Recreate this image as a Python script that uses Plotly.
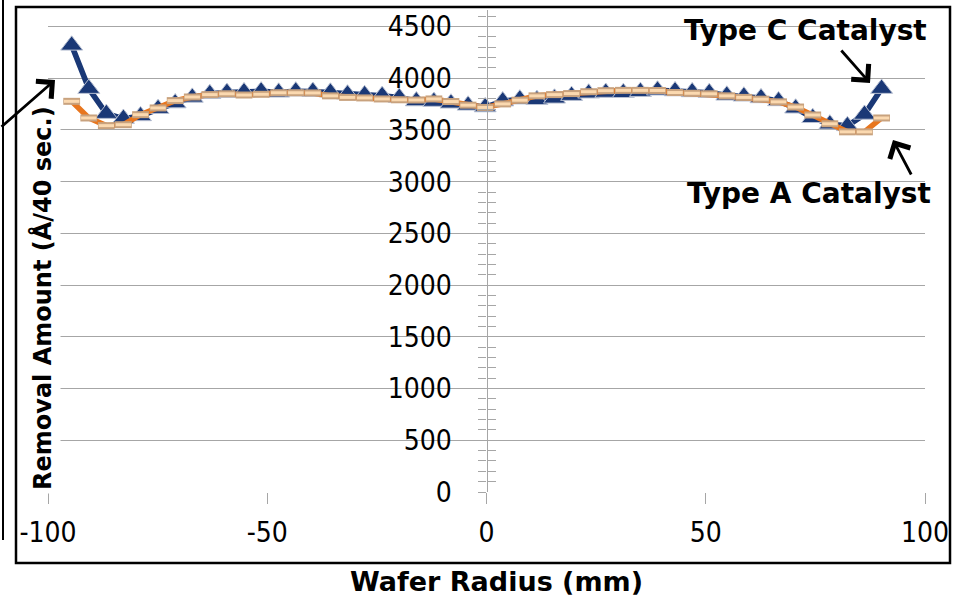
import plotly.graph_objects as go

# ---------------- data ----------------
radius_mm = [-94.6, -90.7, -86.7, -82.8, -78.9, -74.9, -71.0, -67.1, -63.1, -59.2,
             -55.3, -51.4, -47.4, -43.5, -39.6, -35.6, -31.7, -27.8, -23.8, -19.9,
             -16.0, -12.0, -8.1, -4.2, -0.3, 3.7, 7.6, 11.5, 15.5, 19.4,
             23.3, 27.2, 31.2, 35.1, 39.0, 43.0, 46.9, 50.8, 54.8, 58.7,
             62.6, 66.6, 70.5, 74.4, 78.3, 82.3, 86.2, 90.1]

type_c = [4318, 3900, 3658, 3610, 3636, 3706, 3760, 3815, 3850, 3862,
          3868, 3875, 3864, 3875, 3872, 3864, 3846, 3840, 3832, 3814,
          3780, 3775, 3758, 3738, 3722, 3779, 3798, 3792, 3806, 3832,
          3855, 3862, 3860, 3870, 3884, 3877, 3868, 3860, 3835, 3826,
          3810, 3781, 3710, 3618, 3556, 3540, 3650, 3900]

type_a = [3777, 3616, 3542, 3551, 3648, 3713, 3784, 3819, 3842, 3850,
          3838, 3845, 3860, 3860, 3858, 3830, 3815, 3810, 3800, 3792,
          3790, 3800, 3775, 3740, 3718, 3752, 3788, 3830, 3842, 3852,
          3870, 3880, 3883, 3883, 3882, 3862, 3855, 3850, 3830, 3815,
          3798, 3772, 3722, 3645, 3560, 3482, 3482, 3616]

x_ticks = [-100, -50, 0, 50, 100]
x_tick_labels = ["-100", "-50", "0", "50", "100"]
y_ticks = [0, 500, 1000, 1500, 2000, 2500, 3000, 3500, 4000, 4500]
y_tick_labels = ["0", "500", "1000", "1500", "2000", "2500", "3000", "3500", "4000", "4500"]

x_title = "Wafer Radius (mm)"
y_title = "Removal Amount (Å/40 sec.)"
label_c = "Type C Catalyst"
label_a = "Type A Catalyst"

# ---------------- style ----------------
NAVY = "#1a3876"
ORANGE = "#e8761e"
GRID = "#a6a6a6"
TICKFONT = dict(family="DejaVu Sans Condensed, DejaVu Sans", size=28, color="#000000")
BOLD_X = dict(family="DejaVu Sans, Verdana", size=27, color="#000000", weight="bold")
BOLD_Y = dict(family="DejaVu Sans, Verdana", size=24, color="#000000", weight="bold")
BOLD_LBL = dict(family="DejaVu Sans, Verdana", size=28, color="#000000", weight="bold")

fig = go.Figure()

# Type C catalyst: navy line with triangles
fig.add_trace(go.Scatter(
    x=radius_mm, y=type_c, mode="lines+markers", name=label_c,
    line=dict(color=NAVY, width=5.5),
    marker=dict(symbol="triangle-up", size=19, color=NAVY,
                line=dict(color="#b9c1d3", width=1)),
))
# Type A catalyst: orange line with bar markers
fig.add_trace(go.Scatter(
    x=radius_mm, y=type_a, mode="lines", name=label_a,
    line=dict(color=ORANGE, width=5.5),
))
fig.add_trace(go.Scatter(
    x=radius_mm, y=type_a, mode="markers", showlegend=False,
    marker=dict(symbol="line-ew", size=12, color="#c8a27e",
                line=dict(color="#c8a27e", width=7)),
))
fig.add_trace(go.Scatter(
    x=radius_mm, y=type_a, mode="markers", showlegend=False,
    marker=dict(symbol="line-ew", size=11, color="#fbd9b0",
                line=dict(color="#fbd9b0", width=3)),
))
# helper trace so the secondary (inside-tick) y axis is drawn
fig.add_trace(go.Scatter(x=[None], y=[None], yaxis="y2", showlegend=False,
                         hoverinfo="skip"))

L, R, T, B = 48, 37, 10, 105
W, H = 962, 597
pw, ph = W - L - R, H - T - B
x_range = [-100, 100]
y_range = [0, 4660]
x0_paper = (0 - x_range[0]) / (x_range[1] - x_range[0])


def px_to_paper(px, py):
    return (px - L) / pw, (H - B - py) / ph


fig.update_layout(
    width=W, height=H,
    margin=dict(l=L, r=R, t=T, b=B, pad=0),
    paper_bgcolor="white", plot_bgcolor="white",
    showlegend=False,
    xaxis=dict(range=x_range, tickvals=x_ticks, ticktext=x_tick_labels,
               ticks="outside", ticklen=11,
               tickcolor=GRID, tickwidth=1.3, showgrid=False, zeroline=False,
               showline=False, tickfont=TICKFONT, ticklabelstandoff=4),
    yaxis=dict(range=y_range, tickvals=y_ticks, ticktext=y_tick_labels,
               anchor="free", position=x0_paper,
               side="left", showline=True, linecolor=GRID, linewidth=1.3,
               ticks="outside", ticklen=8, tickcolor=GRID, tickwidth=1.3,
               showgrid=True, gridcolor=GRID, gridwidth=1.3, zeroline=False,
               tickfont=TICKFONT, ticklabelstandoff=21,
               minor=dict(dtick=100, ticks="outside", ticklen=8,
                          tickcolor=GRID, tickwidth=1.3, showgrid=False)),
    yaxis2=dict(range=y_range, overlaying="y", anchor="free", position=x0_paper,
                side="left", showticklabels=False, showgrid=False, zeroline=False,
                ticks="inside", ticklen=8, tickcolor=GRID, tickwidth=1.3,
                tickvals=y_ticks,
                minor=dict(dtick=100, ticks="inside", ticklen=8,
                           tickcolor=GRID, tickwidth=1.3, showgrid=False)),
)

annotations = []
# axis titles
tx, ty = px_to_paper(496, 581)
annotations.append(dict(text=x_title, xref="paper", yref="paper", x=tx, y=ty,
                        showarrow=False, font=BOLD_X, xanchor="center", yanchor="middle"))
tx, ty = px_to_paper(42, 298)
annotations.append(dict(text=y_title, xref="paper", yref="paper", x=tx, y=ty,
                        showarrow=False, font=BOLD_Y, textangle=-90,
                        bgcolor="white", borderpad=3,
                        xanchor="center", yanchor="middle"))
# series labels
for text, (px, py) in [(label_c, (805, 31)), (label_a, (809, 193))]:
    lx_, ly_ = px_to_paper(px, py)
    annotations.append(dict(text=text, xref="paper", yref="paper", x=lx_, y=ly_,
                            xanchor="center", yanchor="middle",
                            showarrow=False, font=BOLD_LBL))
# arrows (tip given in pixels, tail offset in pixels)
for tip, tail in [((55, 80), (0, 128)), ((870, 83), (840, 49)), ((893, 140), (912, 176))]:
    ax_, ay_ = px_to_paper(*tip)
    annotations.append(dict(text="", xref="paper", yref="paper", x=ax_, y=ay_,
                            ax=tail[0] - tip[0], ay=tail[1] - tip[1],
                            showarrow=True, arrowhead=4, arrowsize=1.6,
                            arrowwidth=2.8, arrowcolor="black"))
fig.update_layout(annotations=annotations)

# chart frame and outer line
fx0, fy1 = px_to_paper(16, 7)
fx1, fy0 = px_to_paper(950, 563)
lx, ly0 = px_to_paper(3, 540)
_, ly1 = px_to_paper(3, 0)
fig.update_layout(shapes=[
    dict(type="rect", xref="paper", yref="paper", x0=fx0, x1=fx1, y0=fy0, y1=fy1,
         line=dict(color="black", width=2.5), layer="above"),
    dict(type="line", xref="paper", yref="paper", x0=lx, x1=lx, y0=ly0, y1=ly1,
         line=dict(color="black", width=2), layer="above"),
])

fig.write_html("out.html", config={"displayModeBar": False},
               post_script="document.body.style.margin='0';")
